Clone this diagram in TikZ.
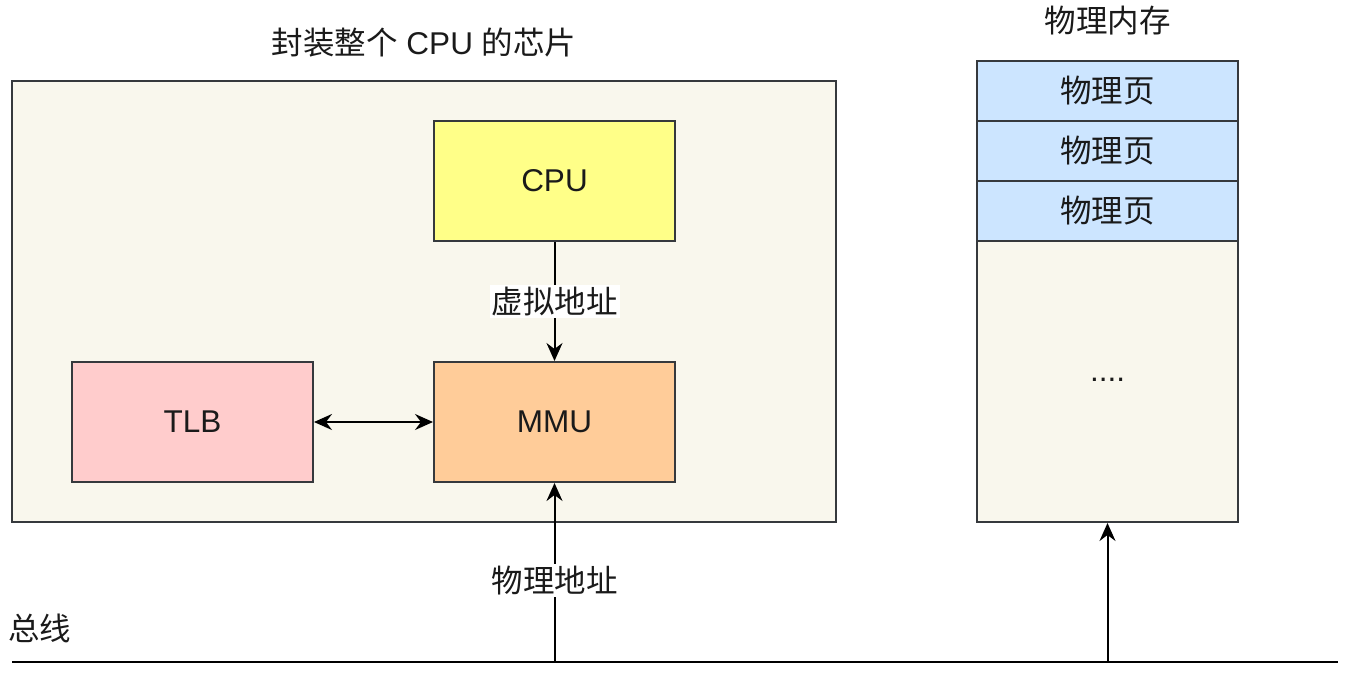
\documentclass[tikz,border=0pt]{standalone}
\usepackage{fontspec}
\setmainfont{Liberation Sans}
\newfontfamily\cjk{Noto Sans CJK SC}
\usetikzlibrary{arrows.meta}
\definecolor{chipbg}{HTML}{F9F7ED}
\definecolor{edge}{HTML}{36393D}
\definecolor{cpufill}{HTML}{FFFF88}
\definecolor{mmufill}{HTML}{FFCC99}
\definecolor{tlbfill}{HTML}{FFCCCC}
\definecolor{pagefill}{HTML}{CCE5FF}
\definecolor{ink}{HTML}{1A1A1A}
\tikzset{
  box/.style={draw=edge, line width=2pt, rectangle, inner sep=0pt, text=ink, font=\fontsize{31.5}{36}\selectfont},
  txt/.style={inner sep=2pt, text=ink, font=\fontsize{31.5}{36}\selectfont},
  tip/.tip={Stealth[length=18pt,width=16pt,inset=6pt]},
  conn/.style={line width=2pt, -tip},
  dconn/.style={line width=2pt, tip-tip},
  lbl/.style={fill=white, inner sep=2pt, text=ink, font=\fontsize{31.5}{36}\selectfont\cjk}
}
\begin{document}
\begin{tikzpicture}[x=1pt,y=-1pt]
\useasboundingbox (0,0) rectangle (1349,678);
% chip
\node[box, fill=chipbg, minimum width=824pt, minimum height=441pt] (chip) at (424,301.5) {};
\node[txt] (chiptitle) at (424,43) {{\cjk 封装整个} CPU {\cjk 的芯片}};
\node[box, fill=cpufill, minimum width=241pt, minimum height=120pt] (cpu) at (554.5,181) {CPU};
\node[box, fill=mmufill, minimum width=241pt, minimum height=120pt] (mmu) at (554.5,422) {MMU};
\node[box, fill=tlbfill, minimum width=241pt, minimum height=120pt] (tlb) at (192.5,422) {TLB};
% memory
\node[txt] (memtitle) at (1107.5,21) {\cjk 物理内存};
\node[box, fill=pagefill, minimum width=261pt, minimum height=60pt] (p1) at (1107.5,91) {\cjk 物理页};
\node[box, fill=pagefill, minimum width=261pt, minimum height=60pt] (p2) at (1107.5,151) {\cjk 物理页};
\node[box, fill=pagefill, minimum width=261pt, minimum height=60pt] (p3) at (1107.5,211) {\cjk 物理页};
\node[box, fill=chipbg, minimum width=261pt, minimum height=281pt] (rest) at (1107.5,381.5) {};
\node[txt] (dots) at (1107.5,380) {....};
% bus
\coordinate (busL) at (12,662);
\coordinate (busR) at (1338,662);
\coordinate (busA) at (554.5,662);
\coordinate (busB) at (1107.5,662);
\draw[line width=2pt] (busL) -- (busR);
\node[txt, anchor=west] (buslbl) at (6,628) {\cjk 总线};
% connectors
\draw[conn] (cpu.south) -- node[lbl, pos=0.5] (va) {虚拟地址} (mmu.north);
\draw[dconn] (tlb.east) -- (mmu.west);
\draw[conn] (busA) -- node[lbl, pos=0.455] (pa) {物理地址} (mmu.south);
\draw[conn] (busB) -- (rest.south);
\end{tikzpicture}
\end{document}
